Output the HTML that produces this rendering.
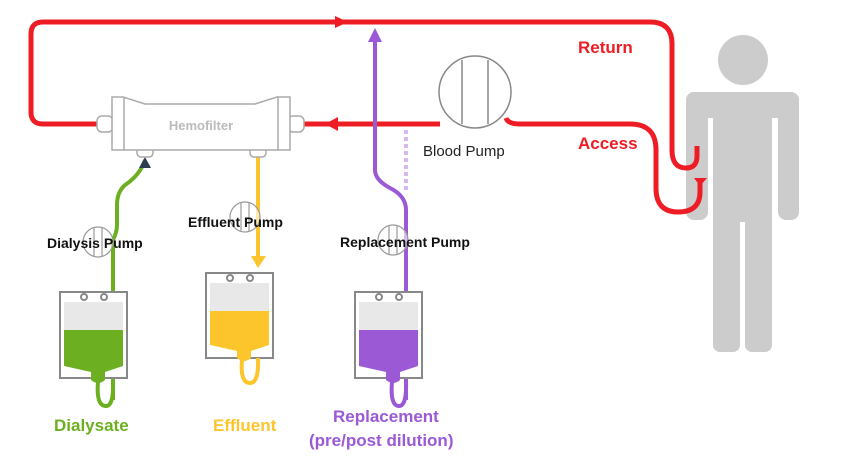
<!DOCTYPE html>
<html><head><style>
html,body{margin:0;padding:0;background:#fff;}
svg{display:block;}
text{font-family:"Liberation Sans",sans-serif;}
</style></head><body>
<svg width="842" height="462" viewBox="0 0 842 462" xmlns="http://www.w3.org/2000/svg">
<g fill="#cccccc">
<circle cx="743" cy="60" r="25"/>
<rect x="686" y="92" width="113" height="26" rx="8"/>
<rect x="686" y="92" width="22" height="128" rx="8"/>
<rect x="778" y="92" width="21" height="128" rx="8"/>
<rect x="713" y="92" width="59" height="130"/>
<rect x="713" y="200" width="27" height="152" rx="7"/>
<rect x="745" y="200" width="27" height="152" rx="7"/>
</g>
<g fill="none" stroke="#ee1c24" stroke-width="5">
<path d="M100 124 H43 Q31 124 31 112 V34 Q31 22 43 22 H650 Q672 22 672 44 V150 Q672 168 686 168 Q697 168 697 156 V146"/>
<path d="M304 124 H440"/>
<path d="M506 118 Q508 124 520 124 H630 Q656 124 656 150 V188 Q656 212 678 212 Q700 212 700 192 V183"/>
</g>
<polygon points="335,16 348,22 335,28" fill="#ee1c24"/>
<polygon points="338,117 338,131 325,124" fill="#ee1c24"/>
<polygon points="694,178 707,178 700,186" fill="#ee1c24"/>
<path d="M375 40 V170 Q375 180 390 188 Q406 196 406 210 V292" fill="none" stroke="#9b59d6" stroke-width="4"/>
<polygon points="368,42 382,42 375,28" fill="#9b59d6"/>
<path d="M406 130 V192" stroke="#d7b8f0" stroke-width="4" stroke-dasharray="4 3"/>
<path d="M145 160 Q140 175 125 185 Q117 192 117 205 V225 Q117 232 113 240 V292" fill="none" stroke="#6cb021" stroke-width="4"/>
<polygon points="139,168 151,168 145,157" fill="#2c3e50"/>
<path d="M258 157 V258" fill="none" stroke="#fcc52c" stroke-width="4"/>
<polygon points="251,256 266,256 258,268" fill="#fcc52c"/>
<g fill="#fff" stroke="#aaa" stroke-width="1.5">
<rect x="97" y="116" width="16" height="16" rx="5"/>
<rect x="288" y="116" width="16" height="16" rx="5"/>
<rect x="137" y="145" width="16" height="12" rx="4"/>
<rect x="250" y="145" width="16" height="12" rx="4"/>
<path d="M112 97 H123 L145 104 H255 L277 97 H290 V150 H112 Z"/>
<line x1="124" y1="97" x2="124" y2="150"/>
<line x1="278" y1="97" x2="278" y2="150"/>
</g>
<text x="201" y="130" text-anchor="middle" font-size="13" fill="#bbb" font-weight="bold">Hemofilter</text>
<circle cx="475" cy="92" r="36" fill="#fff" stroke="#888" stroke-width="1.5"/>
<line x1="462" y1="60" x2="462" y2="124" stroke="#888" stroke-width="1.5"/>
<line x1="488" y1="60" x2="488" y2="124" stroke="#888" stroke-width="1.5"/>
<text x="423" y="156" font-size="15" fill="#222">Blood Pump</text>
<g fill="#fff" fill-opacity="0.6" stroke="#999" stroke-width="1.2">
<circle cx="98" cy="242" r="15"/><circle cx="245" cy="217" r="15"/><circle cx="393" cy="240" r="15"/>
</g>
<g stroke="#999" stroke-width="1.2">
<line x1="94" y1="228" x2="94" y2="256"/><line x1="102" y1="228" x2="102" y2="256"/>
<line x1="241" y1="203" x2="241" y2="231"/><line x1="249" y1="203" x2="249" y2="231"/>
<line x1="389" y1="226" x2="389" y2="254"/><line x1="397" y1="226" x2="397" y2="254"/>
</g>
<g font-size="14" font-weight="bold" fill="#111">
<text x="47" y="248">Dialysis Pump</text>
<text x="188" y="227">Effluent Pump</text>
<text x="340" y="247">Replacement Pump</text>
</g>
<g stroke="#888" stroke-width="2">
<path d="M113 292 V400" stroke="#6cb021" stroke-width="4" fill="none"/>
<rect x="60" y="292" width="67" height="86" fill="#fff"/>
<rect x="64" y="302" width="59" height="28" fill="#e8e8e8" stroke="none"/>
<path d="M64 330 H123 V366 L105 372 L91 372 L64 366 Z" fill="#6cb021" stroke="none"/>
<path d="M91 372 V380 Q98 386 105 380 V372" fill="#6cb021" stroke="none"/>
<path d="M98 382 Q96 406 106 406 Q114 406 113 380" fill="none" stroke="#6cb021" stroke-width="4"/>
<circle cx="84" cy="297" r="3" fill="#fff"/><circle cx="104" cy="297" r="3" fill="#fff"/>
<rect x="206" y="273" width="67" height="85" fill="#fff"/>
<rect x="210" y="283" width="59" height="28" fill="#e8e8e8" stroke="none"/>
<path d="M210 311 H269 V345 L251 351 L237 351 L210 345 Z" fill="#fcc52c" stroke="none"/>
<path d="M237 351 V358 Q244 364 251 358 V351" fill="#fcc52c" stroke="none"/>
<path d="M242 360 Q240 383 250 383 Q259 383 258 358" fill="none" stroke="#fcc52c" stroke-width="4"/>
<circle cx="230" cy="278" r="3" fill="#fff"/><circle cx="250" cy="278" r="3" fill="#fff"/>
<path d="M406 292 V400" stroke="#9b59d6" stroke-width="4" fill="none"/>
<rect x="355" y="292" width="67" height="86" fill="#fff"/>
<rect x="359" y="302" width="59" height="28" fill="#e8e8e8" stroke="none"/>
<path d="M359 330 H418 V366 L400 372 L386 372 L359 366 Z" fill="#9b59d6" stroke="none"/>
<path d="M386 372 V380 Q393 386 400 380 V372" fill="#9b59d6" stroke="none"/>
<path d="M392 382 Q390 406 399 406 Q407 406 406 380" fill="none" stroke="#9b59d6" stroke-width="4"/>
<circle cx="379" cy="297" r="3" fill="#fff"/><circle cx="399" cy="297" r="3" fill="#fff"/>
</g>
<g font-size="17" font-weight="bold">
<text x="578" y="53" fill="#ee1c24">Return</text>
<text x="578" y="149" fill="#ee1c24">Access</text>
<text x="54" y="431" fill="#6cb021">Dialysate</text>
<text x="213" y="431" fill="#fcc52c">Effluent</text>
<text x="333" y="422" fill="#9b59d6">Replacement</text>
<text x="309" y="446" fill="#9b59d6">(pre/post dilution)</text>
</g>
</svg>
</body></html>
